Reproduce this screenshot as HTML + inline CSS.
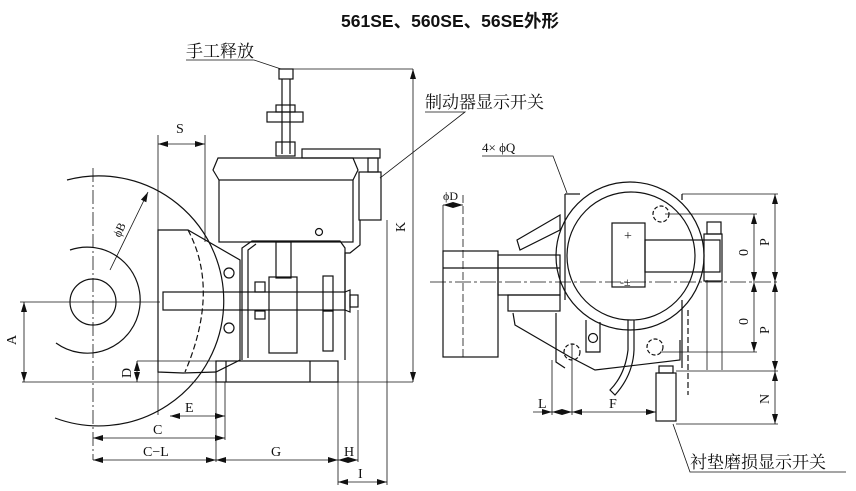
<!DOCTYPE html>
<html><head><meta charset="utf-8"><style>
html,body{margin:0;padding:0;background:#fff;width:856px;height:491px;overflow:hidden}
svg{display:block}
text{font-family:"Liberation Serif","Noto Serif CJK SC",serif;fill:#111}
</style></head><body>
<svg width="856" height="491" viewBox="0 0 856 491" xmlns="http://www.w3.org/2000/svg">
<defs>
<marker id="a" viewBox="0 0 10 6" refX="10" refY="3" markerWidth="10" markerHeight="6" orient="auto-start-reverse" markerUnits="userSpaceOnUse"><path d="M0,0 L10,3 L0,6 z" fill="#111"/></marker>
</defs>
<text x="450" y="27" text-anchor="middle" font-size="17.5" font-weight="bold" style="font-family:'Liberation Sans','Noto Sans CJK SC',sans-serif">561SE、560SE、56SE外形</text>

<g fill="none" stroke="#111" stroke-width="1.2">
<!-- ===== LEFT VIEW ===== -->
<circle cx="93" cy="302" r="23"/>
<path d="M70,250 A53,53 0 1 1 56,343"/>
<path d="M67,180 A125,125 0 1 1 55,418"/>
<line x1="93" y1="168" x2="93" y2="460" stroke-width="0.8" stroke-dasharray="14,3,2,3"/>
<line x1="20" y1="302" x2="160" y2="302" stroke-width="0.8"/>
<line x1="110" y1="270" x2="148" y2="192" stroke-width="0.8" marker-end="url(#a)"/>
<!-- shoe plate -->
<path d="M158,230 L188,230 L240,260 L240,360 L216,372 L183,373 L158,372 Z"/>
<path d="M188,230 Q220,290 185,372" stroke-dasharray="6,3"/>
<circle cx="229" cy="273" r="5"/>
<circle cx="229" cy="328" r="5"/>
<!-- magnet box -->
<rect x="219" y="180" width="134" height="62"/>
<path d="M219,180 L213,170 L218,158 L353,158 L358,170 L353,180"/>
<rect x="302" y="149" width="78" height="9"/>
<rect x="359" y="172" width="22" height="48"/>
<rect x="368" y="158" width="10" height="14"/>
<circle cx="319" cy="232" r="3.5"/>
<path d="M360,220 L360,245 L350,253 L345,253 L345,292"/>
<!-- manual release -->
<rect x="279" y="69" width="14" height="10"/>
<line x1="282" y1="79" x2="282" y2="154"/><line x1="290" y1="79" x2="290" y2="154"/>
<rect x="267" y="112" width="36" height="10"/>
<rect x="276" y="105" width="19" height="7"/>
<rect x="276" y="142" width="19" height="14"/>
<!-- frame -->
<path d="M242,360 L242,248 L252,241 L340,241 L345,248 L345,360"/>
<path d="M248,358 L248,250 L256,244"/>
<rect x="276" y="242" width="15" height="36"/>
<rect x="269" y="277" width="28" height="76"/>
<rect x="323" y="276" width="10" height="35"/>
<rect x="323" y="311" width="10" height="40"/>
<rect x="255" y="282" width="10" height="10"/>
<rect x="255" y="311" width="10" height="8"/>
<!-- rod -->
<rect x="163" y="292" width="182" height="18"/>
<path d="M345,292 L350,290 L350,312 L345,310"/>
<rect x="350" y="295" width="8" height="12"/>
<!-- base -->
<rect x="216" y="361" width="122" height="21"/>
<line x1="226" y1="361" x2="226" y2="382"/>
<line x1="310" y1="361" x2="310" y2="382"/>
<g stroke-width="0.8">
<line x1="22" y1="382" x2="413" y2="382"/>
<line x1="293" y1="69" x2="413" y2="69"/>
<line x1="413" y1="69" x2="413" y2="382" marker-start="url(#a)" marker-end="url(#a)"/>
<line x1="24" y1="302" x2="24" y2="382" marker-start="url(#a)" marker-end="url(#a)"/>
<line x1="137" y1="361" x2="216" y2="361"/>
<line x1="137" y1="361" x2="137" y2="382" marker-start="url(#a)" marker-end="url(#a)"/>
<line x1="158" y1="135" x2="158" y2="415"/>
<line x1="205" y1="135" x2="205" y2="242"/>
<line x1="158" y1="144" x2="205" y2="144" marker-start="url(#a)" marker-end="url(#a)"/>
<line x1="225" y1="382" x2="225" y2="440"/>
<line x1="170" y1="416" x2="225" y2="416" marker-start="url(#a)" marker-end="url(#a)"/>
<line x1="93" y1="438" x2="225" y2="438" marker-start="url(#a)" marker-end="url(#a)"/>
<line x1="216" y1="382" x2="216" y2="462"/>
<line x1="93" y1="460" x2="216" y2="460" marker-start="url(#a)" marker-end="url(#a)"/>
<line x1="216" y1="460" x2="338" y2="460" marker-start="url(#a)" marker-end="url(#a)"/>
<line x1="338" y1="382" x2="338" y2="485"/>
<line x1="358" y1="310" x2="358" y2="462"/>
<line x1="338" y1="460" x2="358" y2="460" marker-start="url(#a)" marker-end="url(#a)"/>
<line x1="387" y1="220" x2="387" y2="485"/>
<line x1="338" y1="482" x2="387" y2="482" marker-start="url(#a)" marker-end="url(#a)"/>
<polyline points="186,60 254,60 281,69"/>
<polyline points="425,112 465,112 380,178"/>
</g>

<!-- ===== RIGHT VIEW ===== -->
<circle cx="630" cy="256" r="74"/>
<circle cx="631" cy="256" r="64"/>
<rect x="612" y="223" width="33" height="64"/>
<rect x="645" y="240" width="75" height="32"/>
<rect x="704" y="234" width="18" height="47"/>
<rect x="707" y="222" width="14" height="12"/>
<line x1="565" y1="194" x2="565" y2="300"/>
<line x1="565" y1="194" x2="580" y2="194"/>
<line x1="682" y1="194" x2="682" y2="200"/>
<rect x="443" y="251" width="55" height="106"/>
<rect x="498" y="255" width="62" height="40"/>
<line x1="443" y1="268" x2="560" y2="268"/>
<rect x="508" y="295" width="52" height="16"/>
<path d="M517,240 L560,215 L560,230 L520,250 Z"/>
<path d="M513,313 L515,325 L570,357 L595,370 L680,360 L680,340"/>
<path d="M556,313 L556,362 L565,368"/>
<path d="M586,320 L586,352 L600,352 L600,322"/>
<circle cx="593" cy="338" r="4.5"/>
<path d="M628,320 L628,350 Q625,375 610,390 L615,395 Q633,375 634,350 L634,320"/>
<circle cx="572" cy="352" r="8" stroke-dasharray="4,2"/>
<circle cx="661" cy="214" r="8" stroke-dasharray="4,2"/>
<circle cx="655" cy="347" r="8" stroke-dasharray="4,2"/>
<line x1="682" y1="300" x2="682" y2="368"/>
<line x1="688" y1="310" x2="688" y2="395" stroke-dasharray="6,3"/>
<rect x="656" y="373" width="20" height="48"/>
<rect x="659" y="366" width="14" height="7"/>
<g stroke-width="0.8">
<line x1="430" y1="282" x2="778" y2="282" stroke-dasharray="16,3,3,3"/>
<line x1="463" y1="195" x2="463" y2="358" stroke-dasharray="8,3"/>
<line x1="443" y1="205" x2="443" y2="251"/>
<line x1="443" y1="205" x2="463" y2="205" marker-start="url(#a)" marker-end="url(#a)"/>
<line x1="682" y1="194" x2="778" y2="194"/>
<line x1="775" y1="194" x2="775" y2="282" marker-start="url(#a)" marker-end="url(#a)"/>
<line x1="775" y1="282" x2="775" y2="371" marker-start="url(#a)" marker-end="url(#a)"/>
<line x1="665" y1="214" x2="757" y2="214"/>
<line x1="754" y1="214" x2="754" y2="282" marker-start="url(#a)" marker-end="url(#a)"/>
<line x1="754" y1="282" x2="754" y2="352" marker-start="url(#a)" marker-end="url(#a)"/>
<line x1="660" y1="352" x2="757" y2="352"/>
<line x1="676" y1="371" x2="778" y2="371"/>
<line x1="676" y1="424" x2="778" y2="424"/>
<line x1="775" y1="371" x2="775" y2="424" marker-start="url(#a)" marker-end="url(#a)"/>
<line x1="707" y1="280" x2="707" y2="370"/>
<line x1="722" y1="280" x2="722" y2="370"/>
<line x1="552" y1="360" x2="552" y2="415"/>
<line x1="572" y1="344" x2="572" y2="415"/>
<line x1="533" y1="412" x2="552" y2="412" marker-end="url(#a)"/>
<line x1="552" y1="412" x2="572" y2="412" marker-start="url(#a)" marker-end="url(#a)"/>
<line x1="572" y1="412" x2="656" y2="412" marker-start="url(#a)" marker-end="url(#a)"/>
<polyline points="482,156 553,156 567,193"/>
<polyline points="673,424 690,472 846,472"/>
</g>
</g>

<g font-size="15">
<text x="186" y="57" font-size="17">手工释放</text>
<text x="425" y="108" font-size="17">制动器显示开关</text>
<text x="690" y="468" font-size="17">衬垫磨损显示开关</text>
<text x="482" y="152" font-size="13">4× ϕQ</text>
<text x="443" y="200" font-size="12">ϕD</text>
<text x="176" y="133" font-size="14">S</text>
<text x="185" y="412" font-size="14">E</text>
<text x="153" y="434" font-size="14">C</text>
<text x="143" y="456" font-size="14">C−L</text>
<text x="271" y="456" font-size="14">G</text>
<text x="344" y="456" font-size="14">H</text>
<text x="358" y="478" font-size="14">I</text>
<text x="538" y="408" font-size="14">L</text>
<text x="609" y="408" font-size="14">F</text>
<text font-size="14" transform="translate(16,345) rotate(-90)">A</text>
<text font-size="14" transform="translate(131,378) rotate(-90)">D</text>
<text font-size="14" transform="translate(405,232) rotate(-90)">K</text>
<text font-size="12" transform="translate(120,238) rotate(-65)">ϕB</text>
<text font-size="14" transform="translate(748,256) rotate(-90)">0</text>
<text font-size="14" transform="translate(748,325) rotate(-90)">0</text>
<text font-size="14" transform="translate(769,246) rotate(-90)">P</text>
<text font-size="14" transform="translate(769,334) rotate(-90)">P</text>
<text font-size="14" transform="translate(769,404) rotate(-90)">N</text>
<text x="624" y="240" font-size="14">+</text>
<text x="620" y="286" font-size="12">-±</text>
</g>
</svg>
</body></html>
